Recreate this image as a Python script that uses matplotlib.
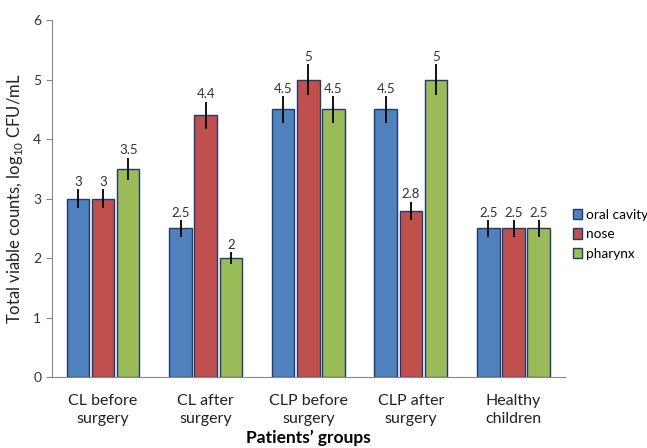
import matplotlib.pyplot as plt
import numpy as np

plt.rcParams['font.family'] = ['Lato', 'DejaVu Sans']
plt.rcParams['mathtext.fontset'] = 'custom'
plt.rcParams['mathtext.rm'] = 'Lato'

groups = ['CL before\nsurgery', 'CL after\nsurgery', 'CLP before\nsurgery',
          'CLP after\nsurgery', 'Healthy\nchildren']
series = ['oral cavity', 'nose', 'pharynx']
oral = [3, 2.5, 4.5, 4.5, 2.5]
nose = [3, 4.4, 5, 2.8, 2.5]
pharynx = [3.5, 2, 4.5, 5, 2.5]
oral_err = [0.16, 0.14, 0.23, 0.23, 0.14]
nose_err = [0.16, 0.23, 0.26, 0.15, 0.14]
pharynx_err = [0.19, 0.1, 0.23, 0.26, 0.14]

colors = ['#4F81BD', '#C0504D', '#9BBB59']
values = [oral, nose, pharynx]
errors = [oral_err, nose_err, pharynx_err]

fig = plt.figure(figsize=(6.47, 4.48), dpi=100)
ax = fig.add_axes([0.080, 0.158, 0.793, 0.797])

x = np.arange(len(groups))
step = 0.245
width = 0.22
for i in range(3):
    pos = x + (i - 1) * step
    ax.bar(pos, values[i], width, color=colors[i], edgecolor='#1F3A6E',
           linewidth=1.0, label=series[i], zorder=2)
    ax.errorbar(pos, values[i], yerr=errors[i], fmt='none', ecolor='black',
                elinewidth=1.3, capsize=0, zorder=3)
    for p, v, e in zip(pos, values[i], errors[i]):
        ax.text(p, v + e + 0.02, f'{v:g}', ha='center', va='bottom',
                fontsize=9.5, color='#333333')

ax.set_xlim(-0.5, len(groups) - 0.5)
ax.set_ylim(0, 6)
ax.set_yticks(range(7))
ax.set_xticks(x)
ax.set_xticklabels(groups, fontsize=11.5, color='#222222', linespacing=1.35)
ax.tick_params(axis='x', length=0, pad=12)
ax.tick_params(axis='y', labelsize=10, colors='#333333', length=4, color='#888888')
for s in ['top', 'right']:
    ax.spines[s].set_visible(False)
for s in ['left', 'bottom']:
    ax.spines[s].set_color('#888888')

ax.set_ylabel(r'Total viable counts, log$_{\mathrm{10}}$ CFU/mL', fontsize=12,
              color='#222222', labelpad=6)
ax.set_xlabel('Patients\u2019 groups', fontsize=12.5, fontweight='bold', labelpad=3)

ax.legend(loc='center left', bbox_to_anchor=(1.005, 0.40), frameon=False,
          fontsize=9.8, handlelength=0.7, handleheight=0.8, handletextpad=0.25,
          labelspacing=0.55, borderaxespad=0.2, borderpad=0.2)

fig.savefig('out.png', dpi=100)
